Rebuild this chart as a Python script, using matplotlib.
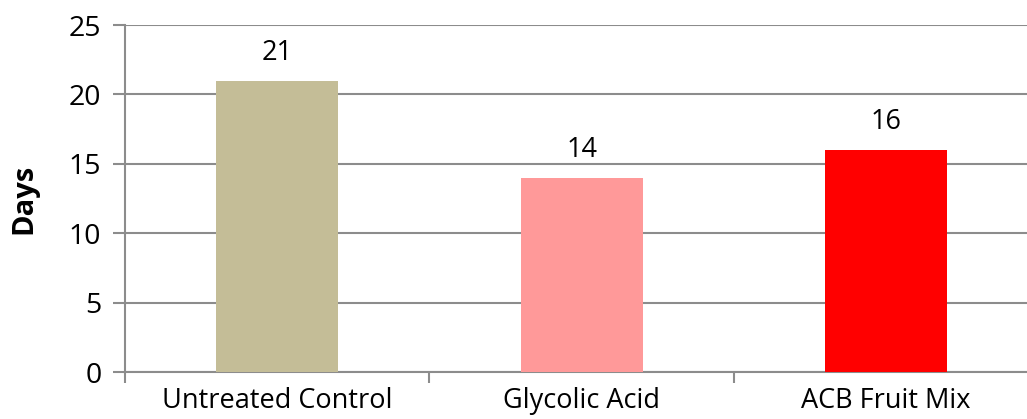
import matplotlib
matplotlib.use("Agg")
import matplotlib.pyplot as plt

categories = ["Untreated Control", "Glycolic Acid", "ACB Fruit Mix"]
values = [21, 14, 16]
colors = ["#C4BD97", "#FF9999", "#FF0000"]
yticks = [0, 5, 10, 15, 20, 25]

plt.rcParams['font.family'] = ['Open Sans', 'DejaVu Sans']
FS = 19.5

fig = plt.figure(figsize=(10.27, 4.19), dpi=100)
ax = fig.add_axes([125/1027, 1-372/419, 1-125/1027, (372-25)/419])

x = list(range(len(categories)))
ax.bar(x, values, width=0.4, color=colors, zorder=3)
for xi, v in zip(x, values):
    ax.text(xi, v + 1.0, str(v), ha='center', va='bottom', fontsize=FS, color='black')

ax.set_yticks(yticks)
ax.set_yticklabels([str(t) for t in yticks], fontsize=20.5)
ax.yaxis.grid(True, color='#8c8c8c', linewidth=1.5, zorder=0)
ax.set_axisbelow(True)

ax.set_xticks([-0.5, 0.5, 1.5, 2.5])
ax.set_xticklabels([])
ax.set_xticks(x, minor=True)
ax.set_xticklabels(categories, minor=True, fontsize=FS)
ax.tick_params(axis='x', which='minor', length=0, pad=11)
ax.tick_params(axis='x', which='major', length=8, width=1.5, color='#8c8c8c', direction='out')
ax.tick_params(axis='y', length=9, width=1.5, color='#8c8c8c', pad=8)

ax.set_ylim(0, 25)
ax.set_xlim(-0.5, 2.463)

for s in ['top', 'right']:
    ax.spines[s].set_visible(False)
ax.spines['left'].set_color('#8c8c8c')
ax.spines['left'].set_linewidth(1.5)
ax.spines['bottom'].set_color('#8c8c8c')
ax.spines['bottom'].set_linewidth(1.5)

ax.set_ylabel("Days", fontsize=21, fontweight='bold', labelpad=22)

fig.savefig("out.png", dpi=100)
